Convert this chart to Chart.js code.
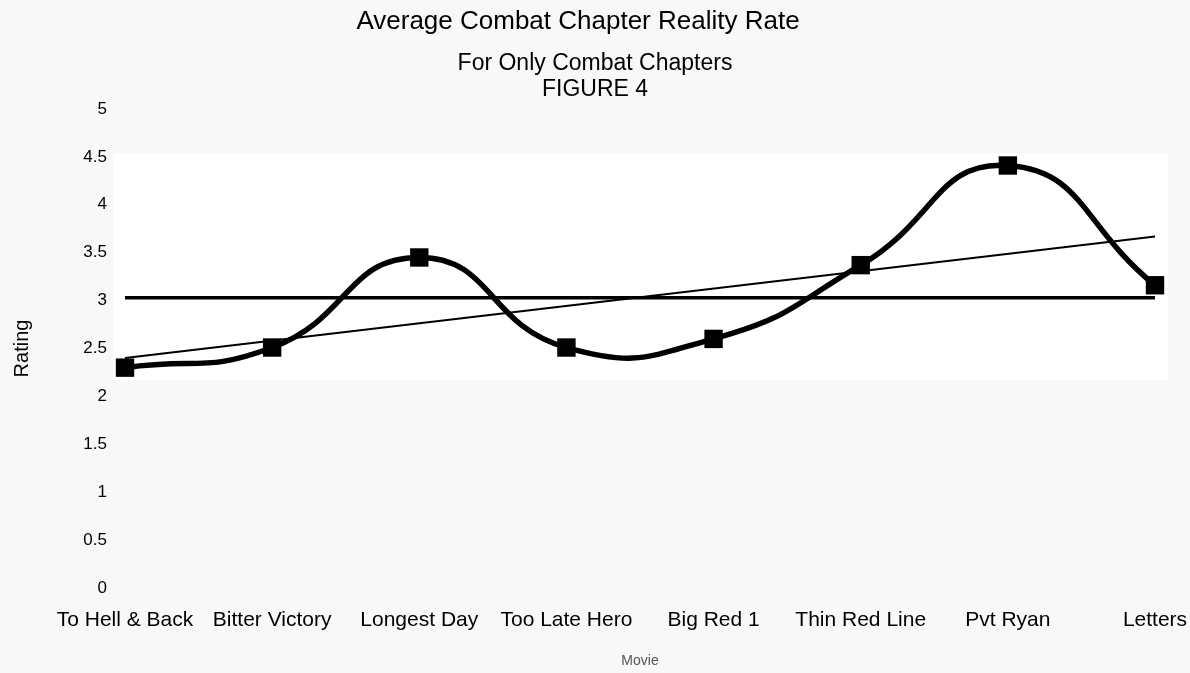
<!DOCTYPE html>
<html>
<head>
<meta charset="utf-8">
<script src="https://cdn.jsdelivr.net/npm/chart.js@4.4.1/dist/chart.umd.min.js"></script>
<style>
  html, body { margin: 0; padding: 0; background: #f8f8f8; }
  #wrap { width: 1190px; height: 673px; }
</style>
</head>
<body>
<div id="wrap"><canvas id="c" width="1190" height="673"></canvas></div>
<script>
const categories = ["To Hell & Back", "Bitter Victory", "Longest Day", "Too Late Hero", "Big Red 1", "Thin Red Line", "Pvt Ryan", "Letters"];
const ratings = [2.30, 2.51, 3.45, 2.51, 2.60, 3.37, 4.41, 3.16];
const averageLine = [3.03, 3.03, 3.03, 3.03, 3.03, 3.03, 3.03, 3.03];
const trendLine = [2.40, null, null, null, null, null, null, 3.67];
const chartTitle = 'Average Combat Chapter Reality Rate';
const chartSubtitle = ['For Only Combat Chapters', 'FIGURE 4'];

const font = "'Liberation Sans', Arial, Helvetica, sans-serif";

const bandPlugin = {
  id: 'band',
  beforeDatasetsDraw(chart) {
    const { ctx, chartArea, scales } = chart;
    const yTop = scales.y.getPixelForValue(4.54);
    const yBot = scales.y.getPixelForValue(2.17);
    ctx.save();
    ctx.fillStyle = '#ffffff';
    ctx.fillRect(chartArea.left - 12, yTop, chartArea.right - chartArea.left + 25, yBot - yTop);
    ctx.restore();
  }
};

const titlePlugin = {
  id: 'mainTitle',
  afterDraw(chart) {
    const { ctx } = chart;
    ctx.save();
    ctx.fillStyle = '#000';
    ctx.font = '26px ' + font;
    ctx.textAlign = 'center';
    ctx.textBaseline = 'middle';
    ctx.fillText(chartTitle, chart.width / 2 - 17, 22);
    ctx.restore();
  }
};

new Chart(document.getElementById('c'), {
  type: 'line',
  data: {
    labels: categories,
    datasets: [
      {
        data: ratings,
        borderColor: '#000',
        backgroundColor: '#000',
        borderWidth: 5.5,
        tension: 0.5,
        pointStyle: 'rect',
        pointRadius: 13,
        pointBackgroundColor: '#000',
        pointBorderWidth: 0,
        order: 0
      },
      {
        data: averageLine,
        borderColor: '#000',
        borderWidth: 3.5,
        pointRadius: 0,
        tension: 0,
        order: 1
      },
      {
        data: trendLine,
        borderColor: '#000',
        borderWidth: 2,
        pointRadius: 0,
        spanGaps: true,
        tension: 0,
        order: 2
      }
    ]
  },
  options: {
    responsive: false,
    animation: false,
    devicePixelRatio: 1,
    layout: { padding: { left: 0, right: 0, top: 51, bottom: 3 } },
    plugins: {
      legend: { display: false },
      tooltip: { enabled: false },
      title: { display: false },
      subtitle: {
        display: true,
        text: chartSubtitle,
        color: '#000',
        font: { family: font, size: 23, weight: 'normal', lineHeight: 1.13 },
        padding: { top: 0, bottom: 6 }
      }
    },
    scales: {
      x: {
        offset: false,
        grid: { display: false, drawTicks: false },
        border: { display: false },
        afterFit(scale) { scale.paddingRight = 35; },
        ticks: {
          color: '#000',
          font: { family: font, size: 21 },
          padding: 20,
          maxRotation: 0,
          autoSkip: false
        },
        title: {
          display: true,
          text: 'Movie',
          color: '#555',
          font: { family: font, size: 14 },
          padding: { top: 0, bottom: 0 }
        }
      },
      y: {
        min: 0,
        max: 5,
        grid: { display: false, drawTicks: false },
        border: { display: false },
        afterFit(scale) { scale.width = 125; },
        ticks: {
          stepSize: 0.5,
          color: '#000',
          font: { family: font, size: 17 },
          padding: 18,
          callback: (v) => String(Math.round(v * 10) / 10)
        },
        title: {
          display: true,
          text: 'Rating',
          color: '#000',
          font: { family: font, size: 20 },
          padding: { top: 10, bottom: 0 }
        }
      }
    }
  },
  plugins: [bandPlugin, titlePlugin]
});
</script>
</body>
</html>
